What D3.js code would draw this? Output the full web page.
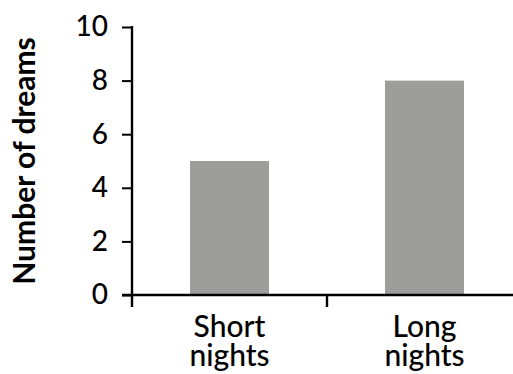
<!DOCTYPE html>
<html>
<head>
<meta charset="utf-8">
<script src="https://cdn.jsdelivr.net/npm/d3@7"></script>
<style>
  html, body { margin: 0; padding: 0; background: #fff; }
  svg { display: block; }
  text { font-family: Lato, "Open Sans", sans-serif; fill: #000; }
</style>
</head>
<body>
<svg id="chart" width="513" height="374"></svg>
<script>
const categories = ["Short nights", "Long nights"];
const categoryLines = [["Short", "nights"], ["Long", "nights"]];
const values = [5, 8];
const yTicks = [0, 2, 4, 6, 8, 10];
const yTitle = "Number of dreams";

const svg = d3.select("#chart");
const W = 513, H = 374;

const y = d3.scaleLinear().domain([0, 10]).range([295, 27]);
const x = d3.scaleBand().domain(categories).range([132, 522]).paddingInner(0).paddingOuter(0);
const barFrac = 0.405;

// bars
svg.append("g").selectAll("rect")
  .data(values)
  .join("rect")
  .attr("x", (d, i) => x(categories[i]) + x.bandwidth() * (1 - barFrac) / 2)
  .attr("width", x.bandwidth() * barFrac)
  .attr("y", d => y(d))
  .attr("height", d => y(0) - y(d))
  .attr("fill", "#9d9d9c");

// y axis
const yAxis = svg.append("g")
  .attr("transform", "translate(132,0)")
  .call(d3.axisLeft(y).tickValues(yTicks).tickSize(10).tickSizeOuter(0).tickPadding(14));
yAxis.select(".domain").remove();
yAxis.selectAll(".tick line").attr("stroke", "#000").attr("stroke-width", 2);
yAxis.selectAll(".tick text")
  .attr("font-size", 28)
  .attr("font-family", "Lato, 'Open Sans', sans-serif")
  .attr("font-weight", 500)
  .attr("fill", "#000");

// vertical axis line (extends below baseline)
svg.append("line")
  .attr("x1", 132).attr("x2", 132)
  .attr("y1", y(10) - 1).attr("y2", y(0) + 12)
  .attr("stroke", "#000").attr("stroke-width", 2.4);

// x axis line
svg.append("line")
  .attr("x1", 122).attr("x2", W)
  .attr("y1", y(0)).attr("y2", y(0))
  .attr("stroke", "#000").attr("stroke-width", 2.4);

// category boundary ticks
svg.append("g").selectAll("line")
  .data(categories.slice(1))
  .join("line")
  .attr("x1", d => x(d)).attr("x2", d => x(d))
  .attr("y1", y(0)).attr("y2", y(0) + 12)
  .attr("stroke", "#000").attr("stroke-width", 2.4);

// category labels
const lab = svg.append("g").selectAll("text")
  .data(categories)
  .join("text")
  .attr("text-anchor", "middle")
  .attr("font-size", 30)
  .attr("font-weight", 500)
  .attr("x", d => x(d) + x.bandwidth() / 2)
  .attr("y", 337);
lab.each(function(d, i) {
  const t = d3.select(this);
  categoryLines[i].forEach((ln, k) => {
    t.append("tspan")
      .attr("x", x(d) + x.bandwidth() / 2)
      .attr("dy", k === 0 ? 0 : 29)
      .text(ln);
  });
});

// y title
svg.append("text")
  .attr("transform", `translate(35,${(y(0) + y(10)) / 2}) rotate(-90)`)
  .attr("text-anchor", "middle")
  .attr("font-size", 30)
  .attr("font-weight", "bold")
  .text(yTitle);
</script>
</body>
</html>
